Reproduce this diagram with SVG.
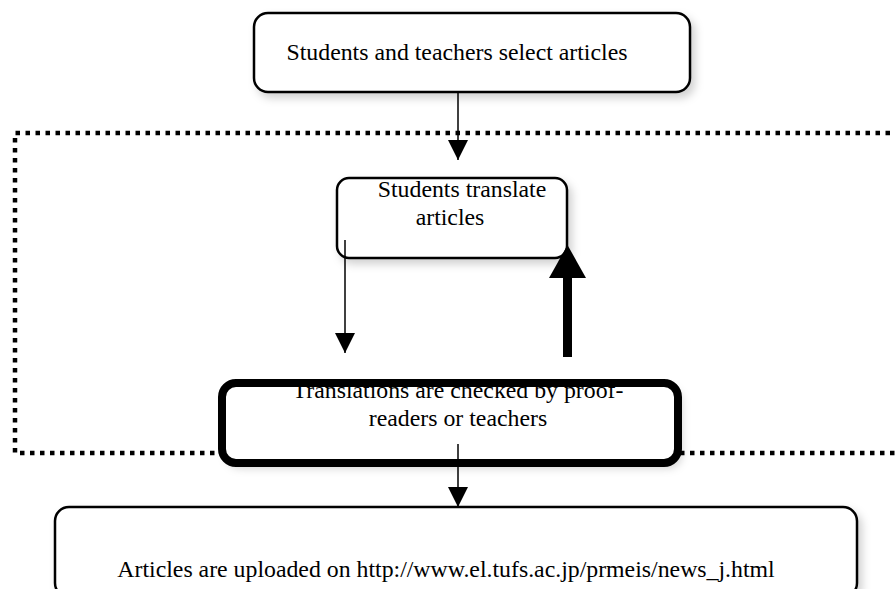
<svg xmlns="http://www.w3.org/2000/svg" width="895" height="589" viewBox="0 0 895 589">
<style>
.box{fill:#fff;stroke:#000;stroke-width:2.5;filter:url(#sh)}
.t{font-family:'Liberation Serif','Times New Roman',serif;font-size:23.8px;fill:#000;text-anchor:middle}
.ln{stroke:#000;stroke-width:1.5;fill:none}
</style>
<defs>
<filter id="sh" x="-10%" y="-20%" width="130%" height="160%">
<feDropShadow dx="4" dy="5" stdDeviation="4" flood-color="#000" flood-opacity="0.18"/>
</filter>
<marker id="ah" markerWidth="20" markerHeight="20" viewBox="0 0 20 20" refX="20" refY="10" orient="auto" markerUnits="userSpaceOnUse">
<path d="M0,0 L20,10 L0,20 Z" fill="#000"/>
</marker>
</defs>
<rect x="0" y="0" width="895" height="589" fill="#fff"/>
<g id="region">
<path d="M900,133 H15 V453 H900" fill="none" stroke="#000" stroke-width="4.5" stroke-dasharray="4.5 5.5"/>
</g>
<g id="n1">
<rect class="box" x="254" y="13" width="436" height="79" rx="14"/>
<text class="t" x="457" y="60">Students and teachers select articles</text>
</g>
<g id="n2">
<rect class="box" x="337" y="178" width="230" height="80" rx="12"/>
<text class="t" x="462" y="197">Students translate</text>
<text class="t" x="450" y="225">articles</text>
</g>
<g id="n3">
<rect x="222" y="383" width="456" height="80" rx="14" fill="#fff" filter="url(#sh)"/>
<text class="t" x="458" y="398">Translations are checked by proof-</text>
<text class="t" x="458" y="426">readers or teachers</text>
<rect x="222" y="383" width="456" height="80" rx="14" fill="none" stroke="#000" stroke-width="8"/>
</g>
<g id="n4">
<rect class="box" x="55" y="507" width="802" height="90" rx="14"/>
<text class="t" x="446" y="577">Articles are uploaded on http://www.el.tufs.ac.jp/prmeis/news_j.html</text>
</g>
<g id="connectors">
<line class="ln" x1="458" y1="92" x2="458" y2="160" marker-end="url(#ah)"/>
<line class="ln" x1="345" y1="240" x2="345" y2="353" marker-end="url(#ah)"/>
<line x1="567.5" y1="357" x2="567.5" y2="276" stroke="#000" stroke-width="9"/>
<path d="M549,278 L586,278 L567.5,245 Z" fill="#000"/>
<line class="ln" x1="458" y1="444" x2="458" y2="507" marker-end="url(#ah)"/>
</g>
</svg>
